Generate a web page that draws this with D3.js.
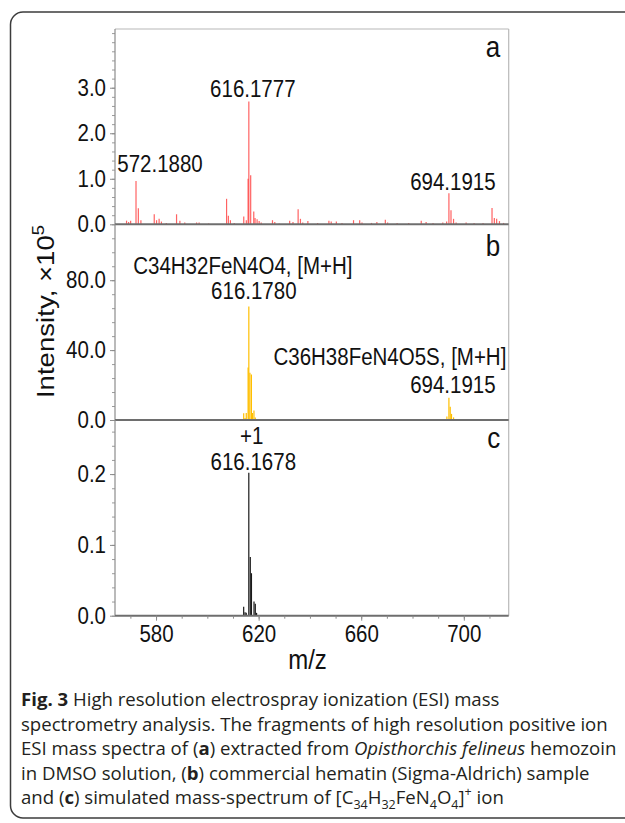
<!DOCTYPE html>
<html>
<head>
<meta charset="utf-8">
<script src="https://cdn.jsdelivr.net/npm/d3@7"></script>
<style>
body { margin: 0; background: #fff; }
svg text { font-family: "Liberation Sans", Arial, sans-serif; fill: #111; }
.caption text { font-family: "Open Sans", sans-serif; fill: #231f20; }
</style>
</head>
<body>
<div id="chart"></div>
<script>
(function(){

// ---- data ----
// (a) hemozoin extract, intensity x10^5
var mzA  = [568.5, 569.3, 570.1, 572.19, 573.1, 574.1, 579.3, 580.2, 581.2, 582.1, 584.0, 588.0, 589.3, 591.2,
            595.8, 596.8, 600.5, 607.5, 608.2, 609.0, 610.5, 614.2, 615.2, 615.9, 616.18, 616.9, 618.1, 618.6,
            619.4, 620.2, 621.0, 625.4, 626.3, 628.0, 632.1, 633.4, 635.4, 636.3, 637.2, 639.2, 643.0, 647.4,
            648.3, 650.3, 652.5, 657.0, 659.4, 660.3, 664.0, 666.1, 669.4, 670.3, 674.0, 678.5, 683.4, 685.3,
            688.0, 691.8, 693.3, 694.19, 695.0, 696.0, 697.0, 700.9, 704.0, 707.5, 711.0, 711.9, 712.8, 713.9, 715.5];
var intA = [0.08, 0.05, 0.08, 0.95, 0.35, 0.09, 0.22, 0.09, 0.12, 0.06, 0.03, 0.22, 0.08, 0.04,
            0.04, 0.04, 0.02, 0.56, 0.19, 0.09, 0.03, 0.17, 0.09, 1.0, 2.70, 1.08, 0.28, 0.14,
            0.11, 0.07, 0.04, 0.09, 0.05, 0.02, 0.08, 0.05, 0.33, 0.12, 0.04, 0.07, 0.03, 0.08,
            0.06, 0.06, 0.03, 0.09, 0.09, 0.04, 0.03, 0.05, 0.10, 0.04, 0.03, 0.03, 0.08, 0.05,
            0.03, 0.04, 0.06, 0.68, 0.31, 0.12, 0.04, 0.04, 0.03, 0.03, 0.36, 0.14, 0.12, 0.07, 0.03];

// (b) commercial hematin
var mzB  = [614.18, 614.7, 615.18, 615.9, 616.18, 616.6, 617.18, 617.6, 618.18, 618.7,
            693.4, 694.19, 694.7, 695.2, 696.0];
var intB = [3.8, 1.2, 4.0, 30, 65, 27, 26, 4, 5.5, 1.5,
            2, 12.8, 7.6, 3.5, 1.5];

// (c) simulated [C34H32FeN4O4]+
var mzC  = [614.17, 614.7, 615.17, 616.17, 616.75, 617.2, 618.2, 618.7, 619.2];
var intC = [0.0127, 0.005, 0.004, 0.202, 0.083, 0.06, 0.02, 0.017, 0.004];

var ticksA = [0, 1, 2, 3],   yMaxA = 4.29;
var ticksB = [0, 40, 80],    yMaxB = 112;
var ticksC = [0, 0.1, 0.2],  yMaxC = 0.2764;
var ticksX = [580, 620, 660, 700];

var labelsA = [{mz: 572.19, v: 0.95, text: "572.1880", dx: 24, dy: -9},
               {mz: 616.18, v: 2.70, text: "616.1777", dx: 4,  dy: -4},
               {mz: 694.19, v: 0.68, text: "694.1915", dx: 4,  dy: -3}];
var labelsB = [{mz: 616.18, v: 65, text: "C34H32FeN4O4, [M+H]", dx: -6, dy: -32.5},
               {mz: 616.18, v: 65, text: "616.1780", dx: 5,  dy: -7},
               {mz: 694.19, v: 12.8, text: "C36H38FeN4O5S, [M+H]", dx: -59, dy: -33},
               {mz: 694.19, v: 12.8, text: "694.1915", dx: 4,  dy: -5}];
var labelsC = [{mz: 616.17, v: 0.202, text: "+1", dx: 3, dy: -28.5},
               {mz: 616.17, v: 0.202, text: "616.1678", dx: 4.5, dy: -3}];

// ---- layout ----
var W = 625, H = 823;
var left = 115, right = 508.7;
var tops = [29, 224.3, 420], bottoms = [224.3, 420, 615.7];
var letterDy = [28, 32, 28];
var stretch = 1.15;   // figure text is a bit taller than wide

var svg = d3.select("#chart").append("svg")
    .attr("width", W)
    .attr("height", H);

// outer figure box (rounded, runs off the right edge)
svg.append("path")
    .attr("d", "M" + (W + 10) + ",12 H23 A12.5 12.5 0 0 0 10.5,24.5 V805.5 A12.5 12.5 0 0 0 23,818 H" + (W + 10))
    .style("fill", "none")
    .style("stroke", "#3c3c3c")
    .style("stroke-width", 1.5);

var x = d3.scaleLinear().domain([564, 717.5]).range([left, right]);

var panels = [
  {mz: mzA, val: intA, ticks: ticksA, max: yMaxA, minor: 0.2,  color: "#ff3b3b", op: 0.8, labels: labelsA, letter: "a"},
  {mz: mzB, val: intB, ticks: ticksB, max: yMaxB, minor: 8,    color: "#ffbf00", op: 1,   labels: labelsB, letter: "b"},
  {mz: mzC, val: intC, ticks: ticksC, max: yMaxC, minor: 0.02, color: "#1a1a1a", op: 1,   labels: labelsC, letter: "c"}
];

function tall(sel) {
    sel.attr("transform", "scale(1," + stretch + ")");
}

// frame: top + right light grey
svg.append("line")
    .attr("x1", left).attr("x2", right).attr("y1", tops[0]).attr("y2", tops[0])
    .style("stroke", "#b8b8b8").style("stroke-width", 1.2);
svg.append("line")
    .attr("x1", right).attr("x2", right).attr("y1", tops[0]).attr("y2", bottoms[2])
    .style("stroke", "#b8b8b8").style("stroke-width", 1.2);

panels.forEach(function(p, i) {
    var y = d3.scaleLinear().domain([0, p.max]).range([bottoms[i], tops[i]]);
    var g = svg.append("g");

    // minor ticks
    var minorVals = d3.range(0, p.max, p.minor);
    g.append("g")
        .attr("transform", "translate(" + left + ",0)")
        .call(d3.axisLeft(y).tickValues(minorVals).tickSize(3).tickFormat(""))
        .call(function(s) {
            s.select(".domain").remove();
            s.selectAll("line").style("stroke", "#9a9a9a");
        });

    // major ticks + labels
    g.append("g")
        .attr("transform", "translate(" + left + ",0)")
        .call(d3.axisLeft(y).tickValues(p.ticks).tickSize(5).tickPadding(4).tickFormat(d3.format(".1f")))
        .call(function(s) {
            s.select(".domain").remove();
            s.selectAll("line").style("stroke", "#8a8a8a");
            s.selectAll("text").style("font-size", "20.5px").style("fill", "#111").call(tall);
        });

    // left axis line
    g.append("line")
        .attr("x1", left).attr("x2", left).attr("y1", tops[i]).attr("y2", bottoms[i])
        .style("stroke", "#8c8c8c").style("stroke-width", 1.2);

    // peaks
    var pts = p.mz.map(function(m, k) { return {mz: m, v: p.val[k]}; });
    g.selectAll("line.peak")
        .data(pts)
      .enter().append("line")
        .attr("class", "peak")
        .attr("x1", function(d) { return x(d.mz); })
        .attr("x2", function(d) { return x(d.mz); })
        .attr("y1", y(0))
        .attr("y2", function(d) { return y(d.v); })
        .style("stroke", p.color)
        .style("stroke-opacity", p.op)
        .style("stroke-width", 1.2);

    // baseline of the panel
    g.append("line")
        .attr("x1", left).attr("x2", right).attr("y1", y(0)).attr("y2", y(0))
        .style("stroke", "#6e6e6e").style("stroke-width", 2);

    // peak annotations
    g.selectAll("text.peaklbl")
        .data(p.labels)
      .enter().append("text")
        .attr("class", "peaklbl")
        .attr("transform", function(d) {
            return "translate(" + (x(d.mz) + d.dx) + "," + (y(d.v) + d.dy) + ") scale(1," + stretch + ")";
        })
        .attr("text-anchor", "middle")
        .style("font-size", "20.5px")
        .text(function(d) { return d.text; });

    // panel letter
    g.append("text")
        .attr("transform", "translate(" + (right - 8.5) + "," + (tops[i] + letterDy[i]) + ") scale(1," + stretch + ")")
        .attr("text-anchor", "end")
        .style("font-size", "26px")
        .text(p.letter);
});

// x axis
svg.append("g")
    .attr("transform", "translate(0," + bottoms[2] + ")")
    .call(d3.axisBottom(x).tickValues(d3.range(570, 717, 10)).tickSize(3).tickFormat(""))
    .call(function(s) {
        s.select(".domain").remove();
        s.selectAll("line").style("stroke", "#8a8a8a");
    });
svg.append("g")
    .attr("transform", "translate(0," + bottoms[2] + ")")
    .call(d3.axisBottom(x).tickValues(ticksX).tickSize(5).tickPadding(3).tickFormat(d3.format("d")))
    .call(function(s) {
        s.select(".domain").remove();
        s.selectAll("line").style("stroke", "#8a8a8a");
        s.selectAll("text").style("font-size", "20.5px").style("fill", "#111").call(tall);
    });

// axis titles
svg.append("text")
    .attr("transform", "translate(307.5,669) scale(1," + stretch + ")")
    .attr("text-anchor", "middle")
    .style("font-size", "24px")
    .text("m/z");

var yt = svg.append("text")
    .attr("transform", "translate(54,311.5) scale(1," + stretch + ") rotate(-90)")
    .attr("text-anchor", "middle")
    .style("font-size", "24px");
yt.append("tspan").text("Intensity, \u00d710");
yt.append("tspan").attr("dy", -10).style("font-size", "16px").text("5");

// caption
var caption = [
  [{t: "Fig. 3", b: 1}, {t: " High resolution electrospray ionization (ESI) mass"}],
  [{t: "spectrometry analysis. The fragments of high resolution positive ion"}],
  [{t: "ESI mass spectra of ("}, {t: "a", b: 1}, {t: ") extracted from "}, {t: "Opisthorchis felineus", i: 1}, {t: " hemozoin"}],
  [{t: "in DMSO solution, ("}, {t: "b", b: 1}, {t: ") commercial hematin (Sigma-Aldrich) sample"}],
  [{t: "and ("}, {t: "c", b: 1}, {t: ") simulated mass-spectrum of [C"}, {t: "34", s: 1}, {t: "H"}, {t: "32", s: 1},
   {t: "FeN"}, {t: "4", s: 1}, {t: "O"}, {t: "4", s: 1}, {t: "]"}, {t: "+", p: 1}, {t: " ion"}]
];

var cap = svg.append("g").attr("class", "caption");
caption.forEach(function(line, li) {
    var t = cap.append("text")
        .attr("x", 21)
        .attr("y", 706 + li * 24.5)
        .style("font-size", "18.6px");
    var shift = 0;
    line.forEach(function(seg) {
        var want = seg.s ? 4.5 : (seg.p ? -8 : 0);
        var ts = t.append("tspan")
            .attr("dy", want - shift)
            .text(seg.t);
        shift = want;
        if (seg.b) ts.style("font-weight", "bold");
        if (seg.i) ts.style("font-style", "italic");
        if (seg.s || seg.p) ts.style("font-size", "12.5px");
    });
});

})();
</script>
</body>
</html>
